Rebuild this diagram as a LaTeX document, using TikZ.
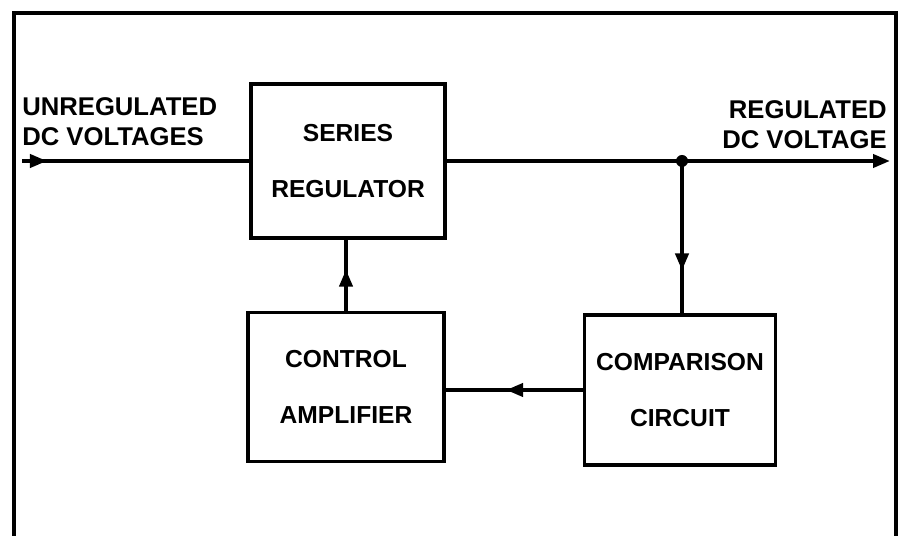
\documentclass[tikz,border=0pt]{standalone}
\usepackage{fontspec}
\setmainfont{Liberation Sans}
\usetikzlibrary{arrows.meta,positioning,decorations.markings}

\begin{document}
\begin{tikzpicture}[x=0.02cm, y=-0.02cm,
    block/.style={draw=black, line width=2.2pt, align=center, inner sep=0pt,
        font=\fontsize{14}{32}\selectfont\bfseries},
    sigtext/.style={inner sep=0pt, font=\fontsize{14.6}{17}\selectfont\bfseries},
    wire/.style={line width=2.2pt},
    midarrow/.style={postaction={decorate}, decoration={markings,
        mark=at position #1 with {\arrow{Triangle[length=0.34cm, width=0.26cm]}}}}]
            \useasboundingbox (0,0) rectangle (900,536);
            % frame, open at the bottom
            \draw[line width=2.8pt] (14,536) -- (14,13) -- (896,13) -- (896,536);

            \node[block, minimum width=3.88cm, minimum height=3.08cm] (series) at (348,161) {SERIES\\REGULATOR};
            \node[block, minimum width=3.92cm, minimum height=2.98cm] (ctrl) at (346,387) {CONTROL\\AMPLIFIER};
            \node[block, minimum width=3.82cm, minimum height=3.0cm] (comp) at (680,390) {COMPARISON\\CIRCUIT};

            \node[sigtext, anchor=north west, align=left] (inlabel) at (22,97) {UNREGULATED\\DC VOLTAGES};
            \node[sigtext, anchor=north east, align=right] (outlabel) at (887,100) {REGULATED\\DC VOLTAGE};

            \coordinate (in) at (22,161);
            \coordinate (junc) at (682,161);
            \coordinate (out) at (890,161);

            \draw[wire, midarrow=0.11] (in) -- (series.west);
            \draw[wire] (series.east) -- (junc);
            \draw[wire, -{Triangle[length=0.34cm, width=0.26cm]}] (junc) -- (out);
            \fill (junc) circle (6);
            \draw[wire, midarrow=0.72] (junc) -- (junc |- comp.north);
            \draw[wire, midarrow=0.56] (comp.west) -- (comp.west -| ctrl.east);
            \draw[wire, midarrow=0.58] (ctrl.north) -- (ctrl.north |- series.south);
        \end{tikzpicture}
\end{document}
